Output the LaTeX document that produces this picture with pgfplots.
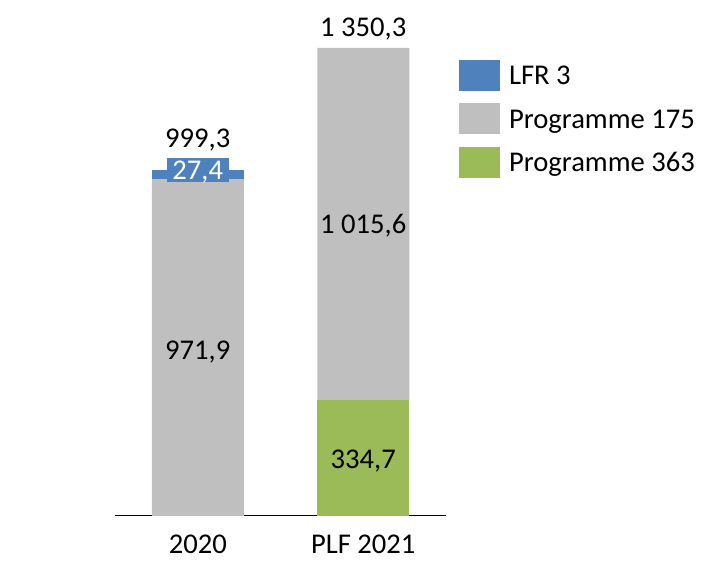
\documentclass[border=0pt]{standalone}
\usepackage{pgfplots}
\pgfplotsset{compat=1.18}
\usepackage{fontspec}
\setmainfont{Carlito}

\definecolor{lfrblue}{HTML}{4F81BD}
\definecolor{progray}{HTML}{BFBFBF}
\definecolor{progreen}{HTML}{9BBB59}

\begin{document}
\fontsize{28.6pt}{34pt}\selectfont
\begin{tikzpicture}
  \path[use as bounding box] (0,0) rectangle (716pt,579pt);
  \begin{axis}[
    at={(115pt,63pt)}, anchor=south west,
    scale only axis,
    width=331pt, height=468pt,
    ybar stacked,
    bar width=92pt,
    xmin=-0.5, xmax=1.5,
    ymin=0, ymax=1350.3,
    axis y line=none,
    axis x line*=bottom,
    x axis line style={black, line width=1pt},
    xtick={0,1},
    xticklabels={2020, PLF 2021},
    ytick=\empty,
    major tick length=0pt,
    xticklabel style={inner sep=0pt, text height=18.4pt, text depth=0pt,
      anchor=north, yshift=-19pt},
    clip=false,
    reverse legend,
    legend image code/.code={\fill[#1] (0pt,-15.5pt) rectangle (41pt,15.5pt);},
    legend style={at={(1.0393,0.9744)}, anchor=north west, draw=none,
      fill=none, inner sep=0pt, outer sep=0pt,
      row sep=12.5pt, column sep=9pt,
      cells={anchor=west},
      nodes={inner sep=0pt, text height=18.4pt, text depth=0pt}},
  ]
    \addplot[fill=progreen, draw=none] coordinates {(0,0) (1,334.7)};
    \addplot[fill=progray, draw=none] coordinates {(0,971.9) (1,1015.6)};
    \addplot[fill=lfrblue, draw=none] coordinates {(0,27.4) (1,0)};
    \legend{Programme 363, Programme 175, LFR 3}

    % anchor points for the data labels
    \coordinate (l1) at (axis cs:0,1061.8);
    \coordinate (l2) at (axis cs:1,1382.9);
    \coordinate (l3) at (axis cs:0,452.1);
    \coordinate (l4) at (axis cs:1,815.7);
    \coordinate (l5) at (axis cs:1,137.6);
    \coordinate (l6) at (axis cs:0,998.3);
  \end{axis}
  \node[anchor=base] at (l1) {999,3};
  \node[anchor=base] at (l2) {1~350,3};
  \node[anchor=base] at (l3) {971,9};
  \node[anchor=base] at (l4) {1~015,6};
  \node[anchor=base] at (l5) {334,7};
  \node[fill=lfrblue, text=white, inner xsep=5.6pt, inner ysep=3pt,
    text height=18.4pt, text depth=0pt] at (l6) {27,4};
\end{tikzpicture}
\end{document}
